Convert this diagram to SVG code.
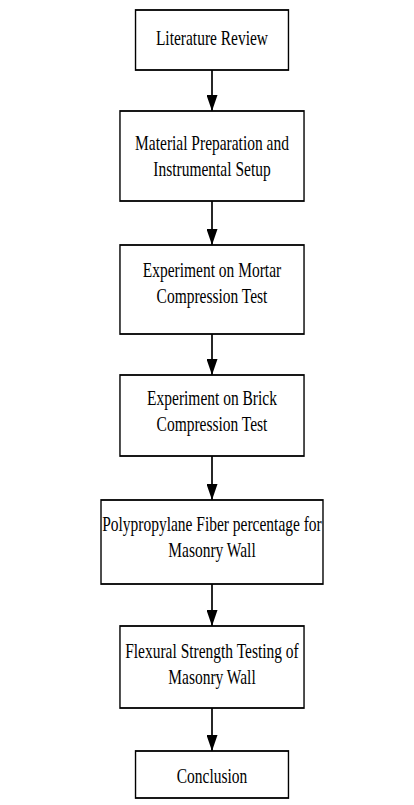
<svg xmlns="http://www.w3.org/2000/svg" width="414" height="805" viewBox="0 0 414 805">
<style>
.box{fill:#fff;stroke:#000;stroke-width:1.8}
.t{font-family:"Liberation Serif","Times New Roman",serif;font-size:20px;fill:#000;text-anchor:middle}
.c{stroke:#000;stroke-width:1.7;fill:none}
</style>
<defs>
<marker id="ah" markerUnits="userSpaceOnUse" markerWidth="16" markerHeight="11" refX="16" refY="5.5" orient="auto" viewBox="0 0 16 11">
<path d="M0,0 L16,5.5 L0,11 Z" fill="#000"/>
</marker>
</defs>
<rect width="414" height="805" fill="#fff"/>
<g id="connectors">
<line class="c" x1="212" y1="70" x2="212" y2="111" marker-end="url(#ah)"/>
<line class="c" x1="212" y1="201" x2="212" y2="245" marker-end="url(#ah)"/>
<line class="c" x1="212" y1="334" x2="212" y2="375" marker-end="url(#ah)"/>
<line class="c" x1="212" y1="456" x2="212" y2="500" marker-end="url(#ah)"/>
<line class="c" x1="212" y1="584" x2="212" y2="626" marker-end="url(#ah)"/>
<line class="c" x1="212" y1="708" x2="212" y2="751" marker-end="url(#ah)"/>
</g>
<g id="n1" transform="matrix(0.774 0 0 1 47.91 0)"><rect class="box" x="113.2" y="10" width="197.6" height="60"/><text class="t" x="212" y="45">Literature Review</text></g>
<g id="n2" transform="matrix(0.774 0 0 1 47.91 0)"><rect class="box" x="93.1" y="111" width="237.8" height="90"/><text class="t" x="212" y="150">Material Preparation and</text><text class="t" x="212" y="176">Instrumental Setup</text></g>
<g id="n3" transform="matrix(0.774 0 0 1 47.91 0)"><rect class="box" x="93.1" y="245" width="237.8" height="89"/><text class="t" x="212" y="277">Experiment on Mortar</text><text class="t" x="212" y="303">Compression Test</text></g>
<g id="n4" transform="matrix(0.774 0 0 1 47.91 0)"><rect class="box" x="93.1" y="375" width="237.8" height="81"/><text class="t" x="212" y="405">Experiment on Brick</text><text class="t" x="212" y="431">Compression Test</text></g>
<g id="n5" transform="matrix(0.774 0 0 1 47.91 0)"><rect class="box" x="68.6" y="500" width="286.8" height="84"/><text class="t" x="212" y="531">Polypropylane Fiber percentage for</text><text class="t" x="212" y="557">Masonry Wall</text></g>
<g id="n6" transform="matrix(0.774 0 0 1 47.91 0)"><rect class="box" x="93.1" y="626" width="237.8" height="82"/><text class="t" x="212" y="658">Flexural Strength Testing of</text><text class="t" x="212" y="684">Masonry Wall</text></g>
<g id="n7" transform="matrix(0.774 0 0 1 47.91 0)"><rect class="box" x="113.2" y="751" width="197.6" height="47"/><text class="t" x="212" y="783">Conclusion</text></g>
</svg>
